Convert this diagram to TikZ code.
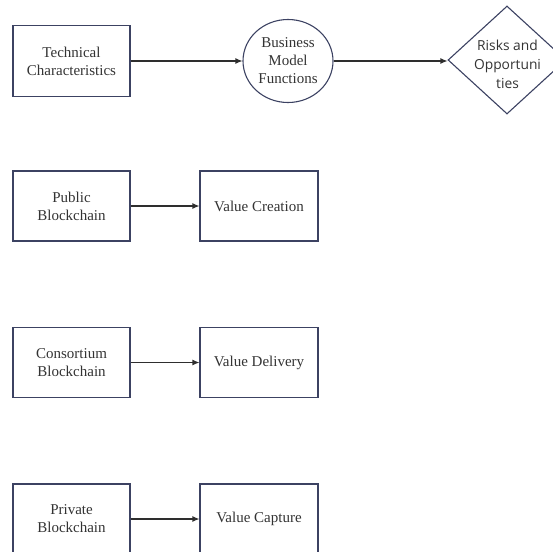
\documentclass[tikz,border=0pt]{standalone}
\usepackage{fontspec}
\setmainfont{Liberation Serif}
\newfontfamily\riskfont{Open Sans}
\usepackage{tikz}
\usetikzlibrary{shapes,arrows.meta}
\definecolor{boxline}{HTML}{3C4262}
\definecolor{arrowline}{HTML}{2E2E2E}
\definecolor{labeltext}{HTML}{333333}

\begin{document}
\begin{tikzpicture}[x=1pt,y=-1pt,
  block/.style={draw=boxline, line width=1.1pt, rectangle, minimum width=117pt, minimum height=70pt,
    align=center, text=labeltext, font=\fontsize{15}{18}\selectfont},
  flow/.style={draw=arrowline, line width=1.1pt, -{Latex[length=7pt,width=6pt]}}]
  \useasboundingbox (0,0) rectangle (553,551);

  % Top row
  \node[block, minimum height=71pt] (tech) at (71.5,61) {Technical\\Characteristics};
  \node[block, ellipse, minimum width=90pt, minimum height=83pt, inner sep=0pt] (bmf) at (288,61) {Business\\Model\\Functions};
  \node[draw=boxline, line width=1.1pt, diamond, minimum width=118pt, minimum height=108pt, inner sep=0pt] (risk) at (507,60) {};
  \node[align=center, text=labeltext, inner sep=0pt, font=\riskfont\fontsize{13.8}{19}\selectfont] (risktext) at (507.5,64) {Risks and\\Opportuni\\ties};

  % Blockchain types
  \node[block] (pub) at (71.5,206) {Public\\Blockchain};
  \node[block] (con) at (71.5,362.5) {Consortium\\Blockchain};
  \node[block] (pri) at (71.5,519) {Private\\Blockchain};

  % Value boxes
  \node[block, minimum width=118pt] (vcre) at (259,206) {Value Creation};
  \node[block, minimum width=118pt] (vdel) at (259,362.5) {Value Delivery};
  \node[block, minimum width=118pt] (vcap) at (259,519) {Value Capture};

  % Arrows
  \draw[flow] (tech) -- (bmf);
  \draw[flow] (bmf.east) -- (bmf.east -| risk.west);
  \draw[flow] (pub) -- (vcre);
  \draw[flow] (con) -- (vdel);
  \draw[flow] (pri) -- (vcap);

\end{tikzpicture}
\end{document}
